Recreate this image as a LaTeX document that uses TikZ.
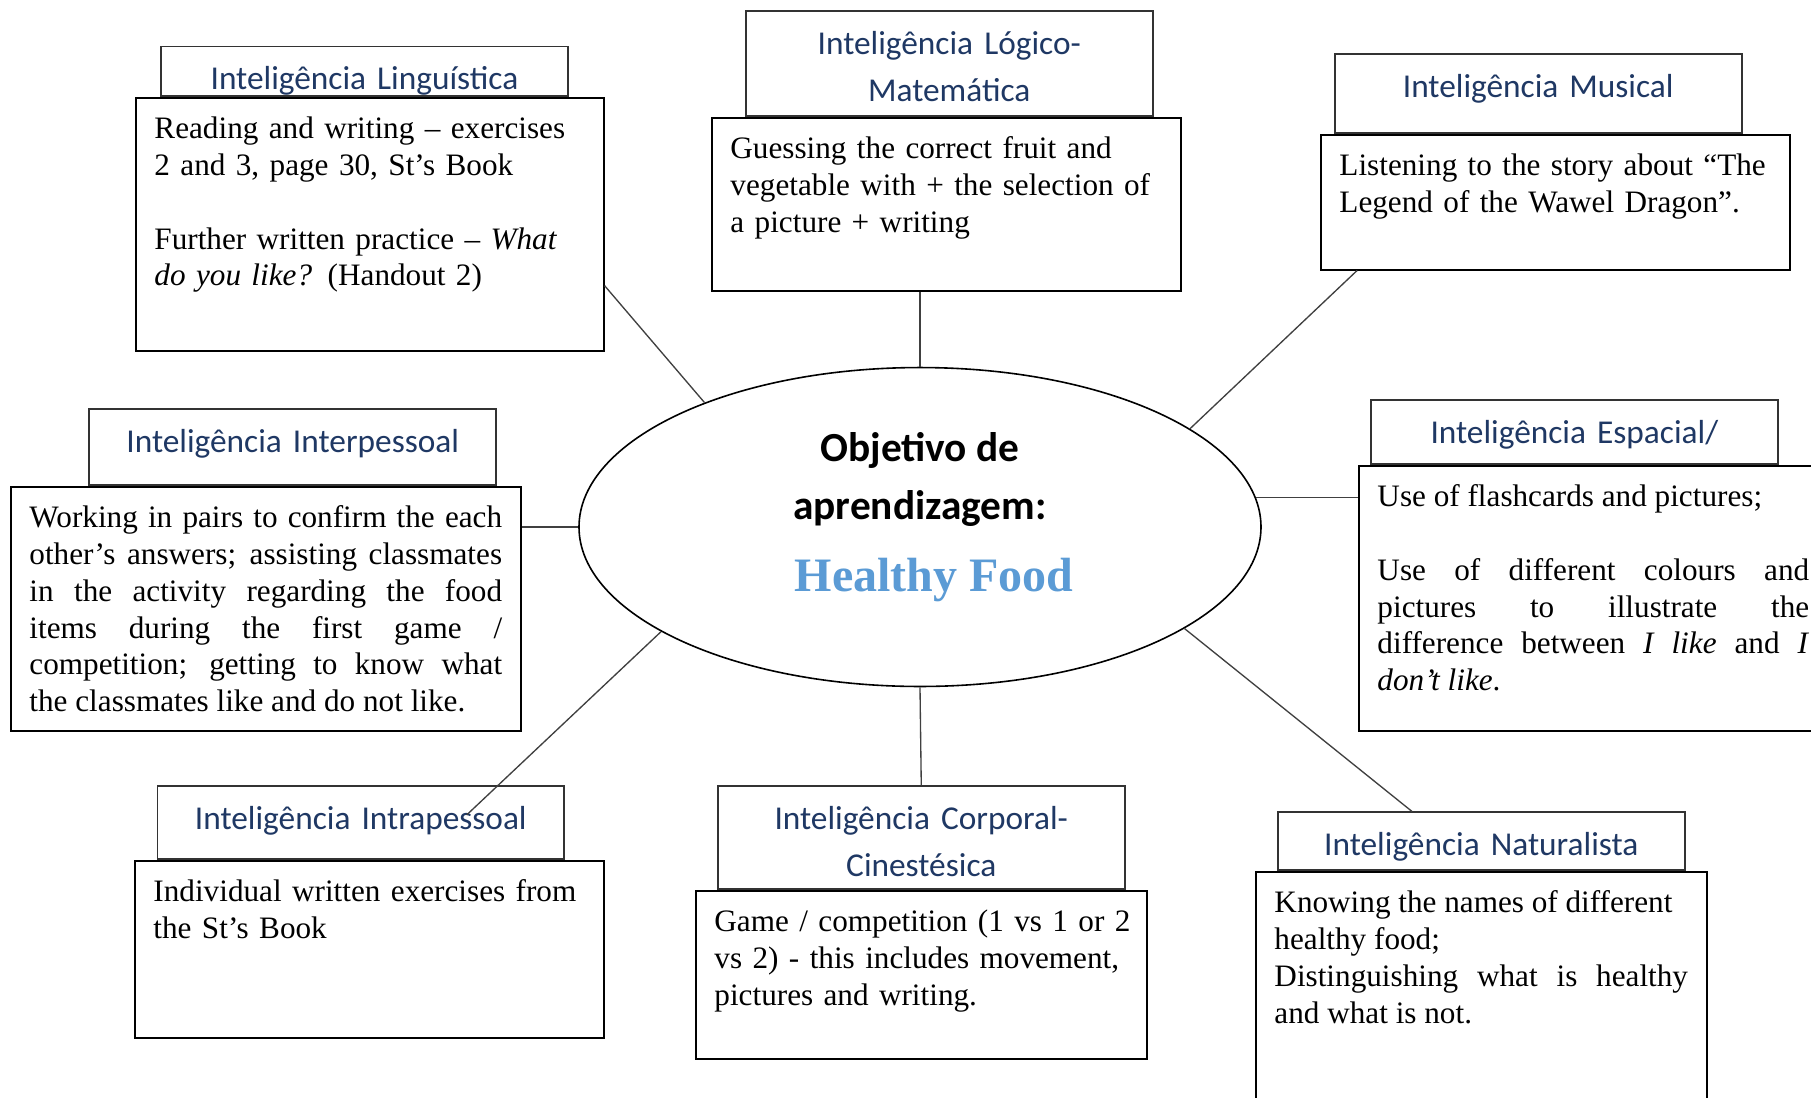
\documentclass[tikz,border=0pt]{standalone}
\usepackage{fontspec}
\setmainfont{Liberation Serif}
\newfontfamily\calibri{Carlito}
\usetikzlibrary{positioning,shapes.geometric}
\definecolor{tabblue}{HTML}{1F3864}
\definecolor{foodblue}{HTML}{5B9BD5}

\begin{document}
\begin{tikzpicture}[
  x=0.375pt, y=-0.375pt,
  card/.style={draw, fill=white, line width=0.6pt, anchor=north west, align=left,
    font=\fontsize{11.7}{13.8}\selectfont, inner xsep=7pt, inner ysep=4.5pt, text height=10.8pt},
  tab/.style={draw=black!80, fill=white, line width=0.6pt, align=center, text=tabblue,
    font=\calibri\fontsize{12.5}{17.6}\selectfont, text width=138.6pt,
    inner xsep=7pt, inner ysep=4.5pt, text height=11.7pt},
  goal/.style={ellipse, draw, line width=0.6pt, minimum width=255.75pt, minimum height=119.6pt,
    align=center, inner sep=0pt, font=\calibri\bfseries\fontsize{15.5}{21.75}\selectfont,
    text height=52.5pt, text depth=4.5pt},
  link/.style={draw=black!75, line width=0.5pt}
]
\path[use as bounding box, fill=white] (0,0) rectangle (1811,1097);

% activity boxes
\node[card, text width=161.5pt, text depth=75.1pt] (lin) at (135,97)
  {Reading and writing – exercises\\ 2 and 3, page 30, St’s Book\\[13.8pt]
   Further written practice – \textit{What}\\ \textit{do you like?} (Handout 2)};
\node[card, text width=161.9pt, text depth=45.1pt] (logic) at (711,117)
  {Guessing the correct fruit and\\ vegetable with + the selection of\\ a picture + writing};
\node[card, text width=161.9pt, text depth=30.8pt] (music) at (1320,134)
  {Listening to the story about “The\\ Legend of the Wawel Dragon”.};
\node[card, align=justify, text width=177.25pt, text depth=71.7pt] (inter) at (10,486)
  {Working in pairs to confirm the each\linebreak other’s answers; assisting classmates\linebreak
   in the activity regarding the food\linebreak items during the first game /\linebreak
   competition; getting to know what\linebreak the classmates like and do not like.};
\node[card, align=justify, text width=161.9pt, text depth=79.6pt] (space) at (1358,465)
  {Use of flashcards and pictures;\\[13.8pt]
   Use of different colours and\linebreak pictures to illustrate the\linebreak
   difference between \textit{I like} and \textit{I}\linebreak \textit{don’t like}.};
\node[card, text width=161.9pt, text depth=46.6pt] (intra) at (134,860)
  {Individual written exercises from\\ the St’s Book};
\node[card, text width=155.1pt, text depth=43.2pt] (corp) at (695,890)
  {\mbox{Game / competition (1 vs 1 or 2}\\ vs 2) - this includes movement,\\ pictures and writing.};
\node[card, align=justify, text width=155.1pt, text depth=71.7pt] (nat) at (1255,871)
  {Knowing the names of different\\ healthy food;\\ Distinguishing what is healthy\linebreak and what is not.};

% title tabs
\node[tab, above=0pt of lin, xshift=-2pt, inner ysep=2.5pt, text height=13.7pt, text depth=0pt] (lintab) {Inteligência Linguística};
\node[tab, above=0pt of logic, xshift=1.1pt, text depth=18.7pt] (logictab) {Inteligência Lógico-\\Matemática};
\node[tab, above=0pt of music, xshift=-6.4pt, text depth=8.9pt] (musictab) {Inteligência Musical};
\node[tab, above=0pt of inter, xshift=10.1pt, text depth=7.8pt] (intertab) {Inteligência Interpessoal};
\node[tab, above=0pt of space, xshift=-7.1pt, text depth=3.3pt] (spacetab) {Inteligência Espacial/};
\node[tab, above=0pt of intra, xshift=-3.2pt, text depth=6.7pt] (intratab) {Inteligência Intrapessoal};
\node[tab, above=0pt of corp, text depth=17.9pt] (corptab) {Inteligência Corporal-\\Cinestésica};
\node[tab, above=0pt of nat, text depth=1.05pt] (nattab) {Inteligência Naturalista};

% centre
\node[goal] (goal) at (920,527)
  {Objetivo de\\ aprendizagem:\\[5pt]
   {\rmfamily\fontsize{18}{21.75}\selectfont\color{foodblue}\hspace*{10.5pt}Healthy Food}};

\coordinate (intraend) at ([xshift=-36.9pt, yshift=-11.1pt]intratab.north east);

% connectors
\draw[link] ([yshift=24.75pt]lin.south east) -- (goal.150.6);
\draw[link] (goal.north) -- (goal.north |- logic.south);
\draw[link] ([xshift=13.9pt]music.south west) -- (goal.20.3);
\draw[link] (goal.west) -- (goal.west -| inter.east);
\draw[link] (goal.5.2) -- (goal.5.2 -| space.west);
\draw[link] (goal.202) -- (intraend);
\draw[link] (goal.south) -- (corptab.north);
\draw[link] (goal.-21.4) -- ([xshift=50.6pt]nattab.north west);
\end{tikzpicture}
\end{document}
